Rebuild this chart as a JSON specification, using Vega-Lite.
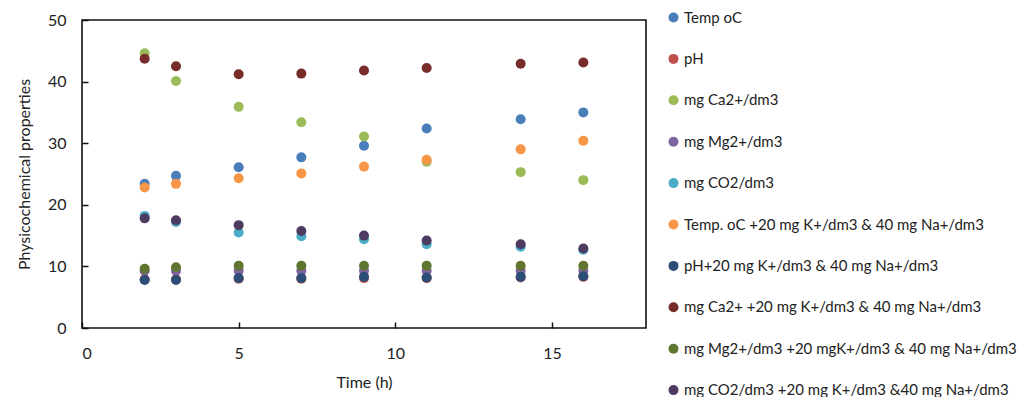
{
  "$schema": "https://vega.github.io/schema/vega-lite/v6.json",
  "width": 564,
  "height": 308,
  "autosize": "none",
  "padding": {"left": 82, "top": 20, "right": 373, "bottom": 69},
  "background": "white",
  "config": {
    "view": {"stroke": "#111", "strokeWidth": 1.6},
    "font": "Lato",
    "axis": {"grid": false, "domain": false, "tickColor": "#111", "tickWidth": 1.5, "labelColor": "#222", "titleColor": "#222", "labelFont": "Lato", "titleFont": "Lato", "titleFontWeight": "normal"}
  },
  "data": {"values": [
    {"t": 2, "s": "Temp oC", "v": 23.4}, {"t": 3, "s": "Temp oC", "v": 24.7}, {"t": 5, "s": "Temp oC", "v": 26.1}, {"t": 7, "s": "Temp oC", "v": 27.7}, {"t": 9, "s": "Temp oC", "v": 29.6}, {"t": 11, "s": "Temp oC", "v": 32.4}, {"t": 14, "s": "Temp oC", "v": 33.9}, {"t": 16, "s": "Temp oC", "v": 35.0},
    {"t": 2, "s": "pH", "v": 7.9}, {"t": 3, "s": "pH", "v": 7.9}, {"t": 5, "s": "pH", "v": 8.0}, {"t": 7, "s": "pH", "v": 8.0}, {"t": 9, "s": "pH", "v": 8.1}, {"t": 11, "s": "pH", "v": 8.1}, {"t": 14, "s": "pH", "v": 8.2}, {"t": 16, "s": "pH", "v": 8.3},
    {"t": 2, "s": "mg Ca2+/dm3", "v": 44.6}, {"t": 3, "s": "mg Ca2+/dm3", "v": 40.1}, {"t": 5, "s": "mg Ca2+/dm3", "v": 35.9}, {"t": 7, "s": "mg Ca2+/dm3", "v": 33.4}, {"t": 9, "s": "mg Ca2+/dm3", "v": 31.1}, {"t": 11, "s": "mg Ca2+/dm3", "v": 27.0}, {"t": 14, "s": "mg Ca2+/dm3", "v": 25.3}, {"t": 16, "s": "mg Ca2+/dm3", "v": 24.0},
    {"t": 2, "s": "mg Mg2+/dm3", "v": 9.3}, {"t": 3, "s": "mg Mg2+/dm3", "v": 9.3}, {"t": 5, "s": "mg Mg2+/dm3", "v": 9.3}, {"t": 7, "s": "mg Mg2+/dm3", "v": 9.3}, {"t": 9, "s": "mg Mg2+/dm3", "v": 9.3}, {"t": 11, "s": "mg Mg2+/dm3", "v": 9.3}, {"t": 14, "s": "mg Mg2+/dm3", "v": 9.3}, {"t": 16, "s": "mg Mg2+/dm3", "v": 9.3},
    {"t": 2, "s": "mg CO2/dm3", "v": 18.2}, {"t": 3, "s": "mg CO2/dm3", "v": 17.2}, {"t": 5, "s": "mg CO2/dm3", "v": 15.5}, {"t": 7, "s": "mg CO2/dm3", "v": 14.9}, {"t": 9, "s": "mg CO2/dm3", "v": 14.4}, {"t": 11, "s": "mg CO2/dm3", "v": 13.6}, {"t": 14, "s": "mg CO2/dm3", "v": 13.2}, {"t": 16, "s": "mg CO2/dm3", "v": 12.7},
    {"t": 2, "s": "Temp. oC +20 mg K+/dm3 & 40 mg Na+/dm3", "v": 22.8}, {"t": 3, "s": "Temp. oC +20 mg K+/dm3 & 40 mg Na+/dm3", "v": 23.4}, {"t": 5, "s": "Temp. oC +20 mg K+/dm3 & 40 mg Na+/dm3", "v": 24.3}, {"t": 7, "s": "Temp. oC +20 mg K+/dm3 & 40 mg Na+/dm3", "v": 25.1}, {"t": 9, "s": "Temp. oC +20 mg K+/dm3 & 40 mg Na+/dm3", "v": 26.2}, {"t": 11, "s": "Temp. oC +20 mg K+/dm3 & 40 mg Na+/dm3", "v": 27.3}, {"t": 14, "s": "Temp. oC +20 mg K+/dm3 & 40 mg Na+/dm3", "v": 29.0}, {"t": 16, "s": "Temp. oC +20 mg K+/dm3 & 40 mg Na+/dm3", "v": 30.4},
    {"t": 2, "s": "pH+20 mg K+/dm3 & 40 mg Na+/dm3", "v": 7.8}, {"t": 3, "s": "pH+20 mg K+/dm3 & 40 mg Na+/dm3", "v": 7.8}, {"t": 5, "s": "pH+20 mg K+/dm3 & 40 mg Na+/dm3", "v": 8.1}, {"t": 7, "s": "pH+20 mg K+/dm3 & 40 mg Na+/dm3", "v": 8.1}, {"t": 9, "s": "pH+20 mg K+/dm3 & 40 mg Na+/dm3", "v": 8.3}, {"t": 11, "s": "pH+20 mg K+/dm3 & 40 mg Na+/dm3", "v": 8.2}, {"t": 14, "s": "pH+20 mg K+/dm3 & 40 mg Na+/dm3", "v": 8.3}, {"t": 16, "s": "pH+20 mg K+/dm3 & 40 mg Na+/dm3", "v": 8.4},
    {"t": 2, "s": "mg Ca2+ +20 mg K+/dm3 & 40 mg Na+/dm3", "v": 43.7}, {"t": 3, "s": "mg Ca2+ +20 mg K+/dm3 & 40 mg Na+/dm3", "v": 42.5}, {"t": 5, "s": "mg Ca2+ +20 mg K+/dm3 & 40 mg Na+/dm3", "v": 41.2}, {"t": 7, "s": "mg Ca2+ +20 mg K+/dm3 & 40 mg Na+/dm3", "v": 41.3}, {"t": 9, "s": "mg Ca2+ +20 mg K+/dm3 & 40 mg Na+/dm3", "v": 41.8}, {"t": 11, "s": "mg Ca2+ +20 mg K+/dm3 & 40 mg Na+/dm3", "v": 42.2}, {"t": 14, "s": "mg Ca2+ +20 mg K+/dm3 & 40 mg Na+/dm3", "v": 42.9}, {"t": 16, "s": "mg Ca2+ +20 mg K+/dm3 & 40 mg Na+/dm3", "v": 43.1},
    {"t": 2, "s": "mg Mg2+/dm3 +20 mgK+/dm3 & 40 mg Na+/dm3", "v": 9.6}, {"t": 3, "s": "mg Mg2+/dm3 +20 mgK+/dm3 & 40 mg Na+/dm3", "v": 9.85}, {"t": 5, "s": "mg Mg2+/dm3 +20 mgK+/dm3 & 40 mg Na+/dm3", "v": 10.1}, {"t": 7, "s": "mg Mg2+/dm3 +20 mgK+/dm3 & 40 mg Na+/dm3", "v": 10.1}, {"t": 9, "s": "mg Mg2+/dm3 +20 mgK+/dm3 & 40 mg Na+/dm3", "v": 10.1}, {"t": 11, "s": "mg Mg2+/dm3 +20 mgK+/dm3 & 40 mg Na+/dm3", "v": 10.1}, {"t": 14, "s": "mg Mg2+/dm3 +20 mgK+/dm3 & 40 mg Na+/dm3", "v": 10.1}, {"t": 16, "s": "mg Mg2+/dm3 +20 mgK+/dm3 & 40 mg Na+/dm3", "v": 10.1},
    {"t": 2, "s": "mg CO2/dm3 +20 mg K+/dm3 &40 mg Na+/dm3", "v": 17.8}, {"t": 3, "s": "mg CO2/dm3 +20 mg K+/dm3 &40 mg Na+/dm3", "v": 17.5}, {"t": 5, "s": "mg CO2/dm3 +20 mg K+/dm3 &40 mg Na+/dm3", "v": 16.7}, {"t": 7, "s": "mg CO2/dm3 +20 mg K+/dm3 &40 mg Na+/dm3", "v": 15.75}, {"t": 9, "s": "mg CO2/dm3 +20 mg K+/dm3 &40 mg Na+/dm3", "v": 15.0}, {"t": 11, "s": "mg CO2/dm3 +20 mg K+/dm3 &40 mg Na+/dm3", "v": 14.2}, {"t": 14, "s": "mg CO2/dm3 +20 mg K+/dm3 &40 mg Na+/dm3", "v": 13.6}, {"t": 16, "s": "mg CO2/dm3 +20 mg K+/dm3 &40 mg Na+/dm3", "v": 12.9}
  ]},
  "mark": {"type": "point", "filled": true, "opacity": 1, "size": 100, "shape": "circle"},
  "encoding": {
    "x": {"field": "t", "type": "quantitative", "title": "Time (h)",
      "scale": {"domain": [0, 18], "nice": false},
      "axis": {"values": [0, 5, 10, 15], "tickSize": -6, "labelPadding": 23, "labelFontSize": 16, "titleFontSize": 16, "titlePadding": 13}},
    "y": {"field": "v", "type": "quantitative", "title": "Physicochemical properties",
      "scale": {"domain": [0, 50], "nice": false},
      "axis": {"values": [0, 10, 20, 30, 40, 50], "tickSize": -6, "labelPadding": 22, "labelFontSize": 16, "titleFontSize": 16, "titlePadding": 15}},
    "color": {"field": "s", "type": "nominal", "title": null,
      "scale": {"domain": ["Temp oC", "pH", "mg Ca2+/dm3", "mg Mg2+/dm3", "mg CO2/dm3", "Temp. oC +20 mg K+/dm3 & 40 mg Na+/dm3", "pH+20 mg K+/dm3 & 40 mg Na+/dm3", "mg Ca2+ +20 mg K+/dm3 & 40 mg Na+/dm3", "mg Mg2+/dm3 +20 mgK+/dm3 & 40 mg Na+/dm3", "mg CO2/dm3 +20 mg K+/dm3 &40 mg Na+/dm3"],
        "range": ["#4a7ebb", "#c0504d", "#9bbb59", "#8064a2", "#4bacc6", "#f79646", "#2c4d75", "#772c2a", "#5f7530", "#4d3b62"]},
      "legend": {"orient": "none", "legendX": 584, "legendY": -10, "symbolSize": 100, "symbolType": "circle", "labelFontSize": 15, "labelFont": "Lato", "labelColor": "#222", "labelLimit": 400, "rowPadding": 25.4, "labelOffset": 3, "padding": 0}}
  }
}
